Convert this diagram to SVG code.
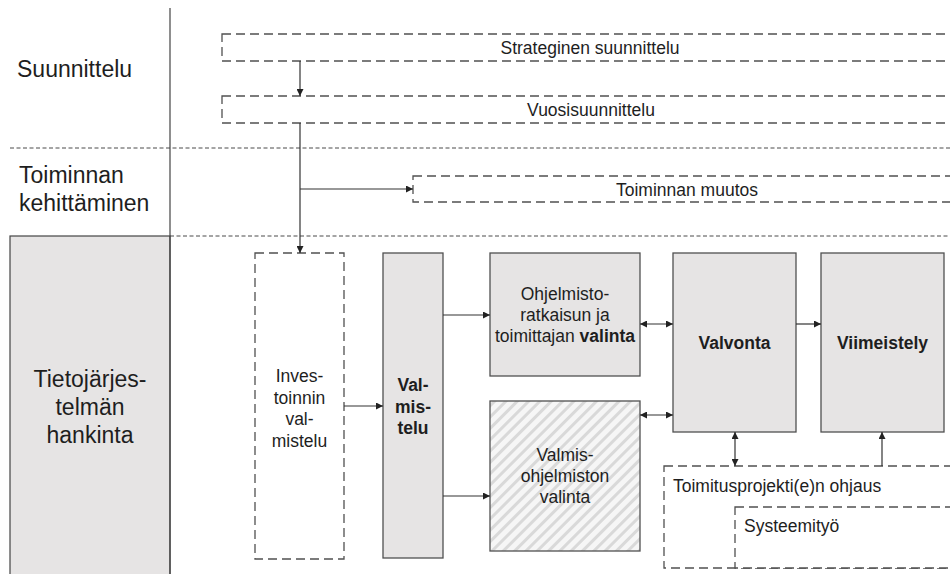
<svg xmlns="http://www.w3.org/2000/svg" width="950" height="574" viewBox="0 0 950 574">
  <style>
    text { font-family: "Liberation Sans", Arial, sans-serif; fill: #1e1e1e; }
    .lane { font-size: 23px; }
    .lbl { font-size: 17.5px; }
    .b { font-weight: bold; }
    .sep { fill: none; stroke: #4a4a4a; stroke-width: 1; stroke-dasharray: 4 2.5; }
    .dash { fill: #fff; stroke: #505050; stroke-width: 1.3; stroke-dasharray: 9 5; }
    .solid { fill: #e6e4e4; stroke: #505050; stroke-width: 1.3; }
    .conn { fill: none; stroke: #333; stroke-width: 1.2; }
  </style>
  <defs>
    <marker id="arr" viewBox="0 0 10 10" refX="10" refY="5" markerWidth="7" markerHeight="7" orient="auto-start-reverse" markerUnits="userSpaceOnUse">
      <path d="M0,0 L10,5 L0,10 Z" fill="#222"/>
    </marker>
    <pattern id="hatch" patternUnits="userSpaceOnUse" width="8" height="8" patternTransform="rotate(45)">
      <rect width="8" height="8" fill="#f6f6f6"/>
      <rect width="3" height="8" fill="#d9d9d9"/>
    </pattern>
  </defs>

  <rect width="950" height="574" fill="#fff"/>

  <!-- swimlane frame -->
  <g id="lanes">
    <rect x="10" y="236" width="160" height="345" fill="#e6e4e4" stroke="#444" stroke-width="1.2"/>
    <line x1="10" y1="148" x2="950" y2="148" class="sep"/>
    <line x1="170" y1="236" x2="950" y2="236" class="sep"/>
    <line x1="170" y1="8" x2="170" y2="574" stroke="#444" stroke-width="1.2"/>
    <text class="lane" x="17" y="77">Suunnittelu</text>
    <text class="lane" x="19" y="183">Toiminnan</text>
    <text class="lane" x="19" y="211">kehittäminen</text>
    <text class="lane" x="90" y="387" text-anchor="middle">Tietojärjes-</text>
    <text class="lane" x="90" y="415" text-anchor="middle">telmän</text>
    <text class="lane" x="90" y="443" text-anchor="middle">hankinta</text>
  </g>

  <g id="strateginen">
    <rect x="222" y="34" width="740" height="27" class="dash"/>
    <text class="lbl" x="590" y="54" text-anchor="middle">Strateginen suunnittelu</text>
  </g>

  <g id="vuosisuunnittelu">
    <rect x="222" y="96" width="740" height="27" class="dash"/>
    <text class="lbl" x="591" y="116" text-anchor="middle">Vuosisuunnittelu</text>
  </g>

  <g id="toiminnan-muutos">
    <rect x="413" y="176" width="550" height="26" class="dash"/>
    <text class="lbl" x="687" y="195.5" text-anchor="middle">Toiminnan muutos</text>
  </g>

  <g id="investointi">
    <rect x="255" y="253" width="89" height="306" class="dash"/>
    <text class="lbl" x="299.5" y="382" text-anchor="middle">Inves-</text>
    <text class="lbl" x="299.5" y="403.5" text-anchor="middle">toinnin</text>
    <text class="lbl" x="299.5" y="425" text-anchor="middle">val-</text>
    <text class="lbl" x="299.5" y="446.5" text-anchor="middle">mistelu</text>
  </g>

  <g id="valmistelu">
    <rect x="383" y="253" width="60" height="305" class="solid"/>
    <text class="lbl b" x="413" y="391" text-anchor="middle">Val-</text>
    <text class="lbl b" x="413" y="412.5" text-anchor="middle">mis-</text>
    <text class="lbl b" x="413" y="434" text-anchor="middle">telu</text>
  </g>

  <g id="ohjelmistoratkaisu">
    <rect x="490" y="253" width="150" height="123" class="solid"/>
    <text class="lbl" x="565" y="300" text-anchor="middle">Ohjelmisto-</text>
    <text class="lbl" x="565" y="321" text-anchor="middle">ratkaisun ja</text>
    <text class="lbl" x="565" y="342" text-anchor="middle">toimittajan <tspan class="b">valinta</tspan></text>
  </g>

  <g id="valmisohjelmisto">
    <rect x="490" y="401" width="150" height="150" fill="url(#hatch)" stroke="#505050" stroke-width="1.3"/>
    <text class="lbl" x="565" y="461" text-anchor="middle">Valmis-</text>
    <text class="lbl" x="565" y="482" text-anchor="middle">ohjelmiston</text>
    <text class="lbl" x="565" y="503" text-anchor="middle">valinta</text>
  </g>

  <g id="valvonta">
    <rect x="673" y="253" width="123" height="179" class="solid"/>
    <text class="lbl b" x="734.5" y="349" text-anchor="middle">Valvonta</text>
  </g>

  <g id="viimeistely">
    <rect x="821" y="253" width="123" height="179" class="solid"/>
    <text class="lbl b" x="882.5" y="349" text-anchor="middle">Viimeistely</text>
  </g>

  <g id="toimitusprojekti">
    <rect x="664" y="466" width="300" height="102" class="dash"/>
    <text class="lbl" x="673" y="492">Toimitusprojekti(e)n ohjaus</text>
  </g>

  <g id="systeemityo">
    <rect x="735" y="507" width="230" height="61" class="dash"/>
    <text class="lbl" x="744" y="532">Systeemityö</text>
  </g>

  <!-- connectors -->
  <g id="connectors" class="conn">
    <line x1="300" y1="61" x2="300" y2="96" marker-end="url(#arr)"/>
    <line x1="300" y1="123" x2="300" y2="253" marker-end="url(#arr)"/>
    <line x1="300" y1="189" x2="413" y2="189" marker-end="url(#arr)"/>
    <line x1="344" y1="406" x2="383" y2="406" marker-end="url(#arr)"/>
    <line x1="443" y1="315" x2="490" y2="315" marker-end="url(#arr)"/>
    <line x1="443" y1="496" x2="490" y2="496" marker-end="url(#arr)"/>
    <line x1="640" y1="324" x2="673" y2="324" marker-start="url(#arr)" marker-end="url(#arr)"/>
    <line x1="640" y1="415" x2="673" y2="415" marker-start="url(#arr)" marker-end="url(#arr)"/>
    <line x1="796" y1="324" x2="821" y2="324" marker-end="url(#arr)"/>
    <line x1="735" y1="432" x2="735" y2="466" marker-start="url(#arr)" marker-end="url(#arr)"/>
    <line x1="882" y1="466" x2="882" y2="432" marker-end="url(#arr)"/>
  </g>
</svg>
